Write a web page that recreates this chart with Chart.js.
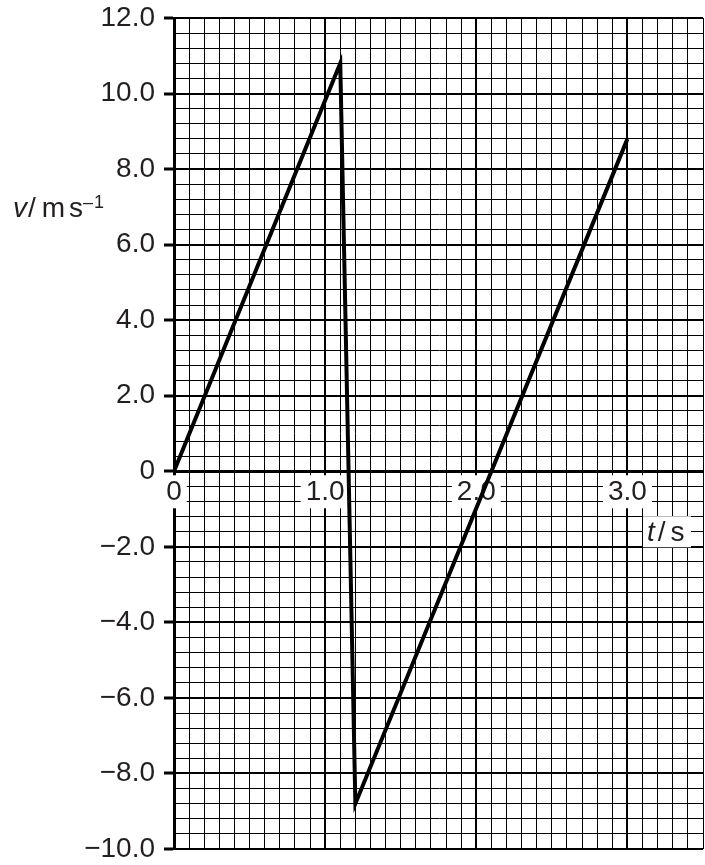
<!DOCTYPE html>
<html lang="en">
<head>
  <meta charset="UTF-8" />
  <title>v-t graph</title>
  <script src="https://cdn.jsdelivr.net/npm/chart.js"></script>
  <style>
    body {
      margin: 0;
      background: #fff;
    }
    canvas {
      display: block;
    }
  </style>
</head>
<body>
  <canvas id="vtChart" width="705" height="865"></canvas>

  <script>
    // readings: time in s, velocity in m/s
    const times = [0, 1.1, 1.2, 3.0];
    const velocities = [0, 10.8, -8.8, 8.8];

    // axis ranges and grid steps
    const tRange = [0, 3.5];
    const vRange = [-10, 12];
    const tMinorStep = 0.1;
    const vMinorStep = 0.4;
    const tMajorStep = 1.0;
    const vMajorStep = 2.0;

    const textColor = '#231f20';
    const fontFamily = '"Liberation Sans", Arial, sans-serif';

    const onStep = (v, step) => Math.abs(v / step - Math.round(v / step)) < 1e-6;

    const tickText = v => {
      if (Math.abs(v) < 1e-9) return '0';
      return (v < 0 ? '\u2212' : '') + Math.abs(v).toFixed(1);
    };

    // axis names with the white patch behind t/s
    const axisTitles = {
      id: 'axisTitles',
      beforeDatasetsDraw(chart) {
        const ctx = chart.ctx;
        const area = chart.chartArea;
        const zeroY = chart.scales.y.getPixelForValue(0);
        ctx.save();
        ctx.fillStyle = textColor;
        ctx.textBaseline = 'alphabetic';
        ctx.textAlign = 'left';

        // t / s
        const tx = area.right - 59;
        const ty = zeroY + 70;
        ctx.save();
        ctx.fillStyle = '#fff';
        ctx.fillRect(area.right - 60, zeroY + 45, 48, 31);
        ctx.restore();
        let x = tx + 3;
        ctx.font = 'italic 28px ' + fontFamily;
        ctx.fillText('t', x, ty);
        x += ctx.measureText('t').width + 3;
        ctx.font = '28px ' + fontFamily;
        ctx.fillText('/', x, ty);
        x += ctx.measureText('/').width + 5;
        ctx.fillText('s', x, ty);

        // v / m s^-1
        const vy = area.top + 199;
        x = 13;
        ctx.font = 'italic 28px ' + fontFamily;
        ctx.fillText('v', x, vy);
        x += ctx.measureText('v').width + 1;
        ctx.font = '28px ' + fontFamily;
        ctx.fillText('/', x, vy);
        x += ctx.measureText('/').width + 6;
        ctx.fillText('m', x, vy);
        x += ctx.measureText('m').width + 4;
        ctx.fillText('s', x, vy);
        x += ctx.measureText('s').width;
        ctx.font = '18px ' + fontFamily;
        ctx.fillText('\u2013', x, vy - 9);
        x += ctx.measureText('\u2013').width + 1;
        ctx.fillText('1', x, vy - 9);
        ctx.restore();
      }
    };

    new Chart(document.getElementById('vtChart'), {
      type: 'line',
      data: {
        datasets: [{
          data: times.map((t, i) => ({ x: t, y: velocities[i] })),
          borderColor: '#000',
          borderWidth: 4,
          borderJoinStyle: 'miter',
          pointRadius: 0,
          tension: 0,
          fill: false
        }]
      },
      options: {
        responsive: false,
        animation: false,
        devicePixelRatio: 1,
        layout: { padding: { top: 18, right: 2, bottom: 16, left: 0 } },
        plugins: {
          legend: { display: false },
          tooltip: { enabled: false }
        },
        scales: {
          x: {
            type: 'linear',
            position: { y: 0 },
            min: tRange[0],
            max: tRange[1],
            afterFit: scale => {
              scale.paddingLeft = 0;
              scale.paddingRight = 0;
            },
            grid: {
              color: '#000',
              lineWidth: c => onStep(c.tick.value, tMajorStep) ? 2 : 1,
              drawTicks: false
            },
            border: { display: true, color: '#000', width: 3, z: -0.5 },
            ticks: {
              stepSize: tMinorStep,
              autoSkip: false,
              maxRotation: 0,
              padding: 7,
              color: textColor,
              font: { family: fontFamily, size: 28, lineHeight: 1 },
              showLabelBackdrop: c => onStep(c.tick.value, tMajorStep),
              backdropColor: '#fff',
              backdropPadding: { top: 3, bottom: 2, left: 5, right: 5 },
              callback: v => onStep(v, tMajorStep) ? tickText(v) : ''
            }
          },
          y: {
            type: 'linear',
            min: vRange[0],
            max: vRange[1],
            afterFit: scale => {
              scale.width = 174;
              scale.paddingTop = 0;
              scale.paddingBottom = 0;
            },
            grid: {
              color: '#000',
              lineWidth: c => onStep(c.tick.value, vMajorStep) ? 2 : 1,
              tickLength: 10,
              tickWidth: 3,
              tickColor: c => onStep(c.tick.value, vMajorStep) ? '#000' : 'rgba(0,0,0,0)'
            },
            border: { display: true, color: '#000', width: 3, z: -0.5 },
            ticks: {
              stepSize: vMinorStep,
              autoSkip: false,
              padding: 9,
              color: textColor,
              font: { family: fontFamily, size: 28 },
              callback: v => onStep(v, vMajorStep) ? tickText(v) : ''
            }
          }
        }
      },
      plugins: [axisTitles]
    });
  </script>
</body>
</html>
